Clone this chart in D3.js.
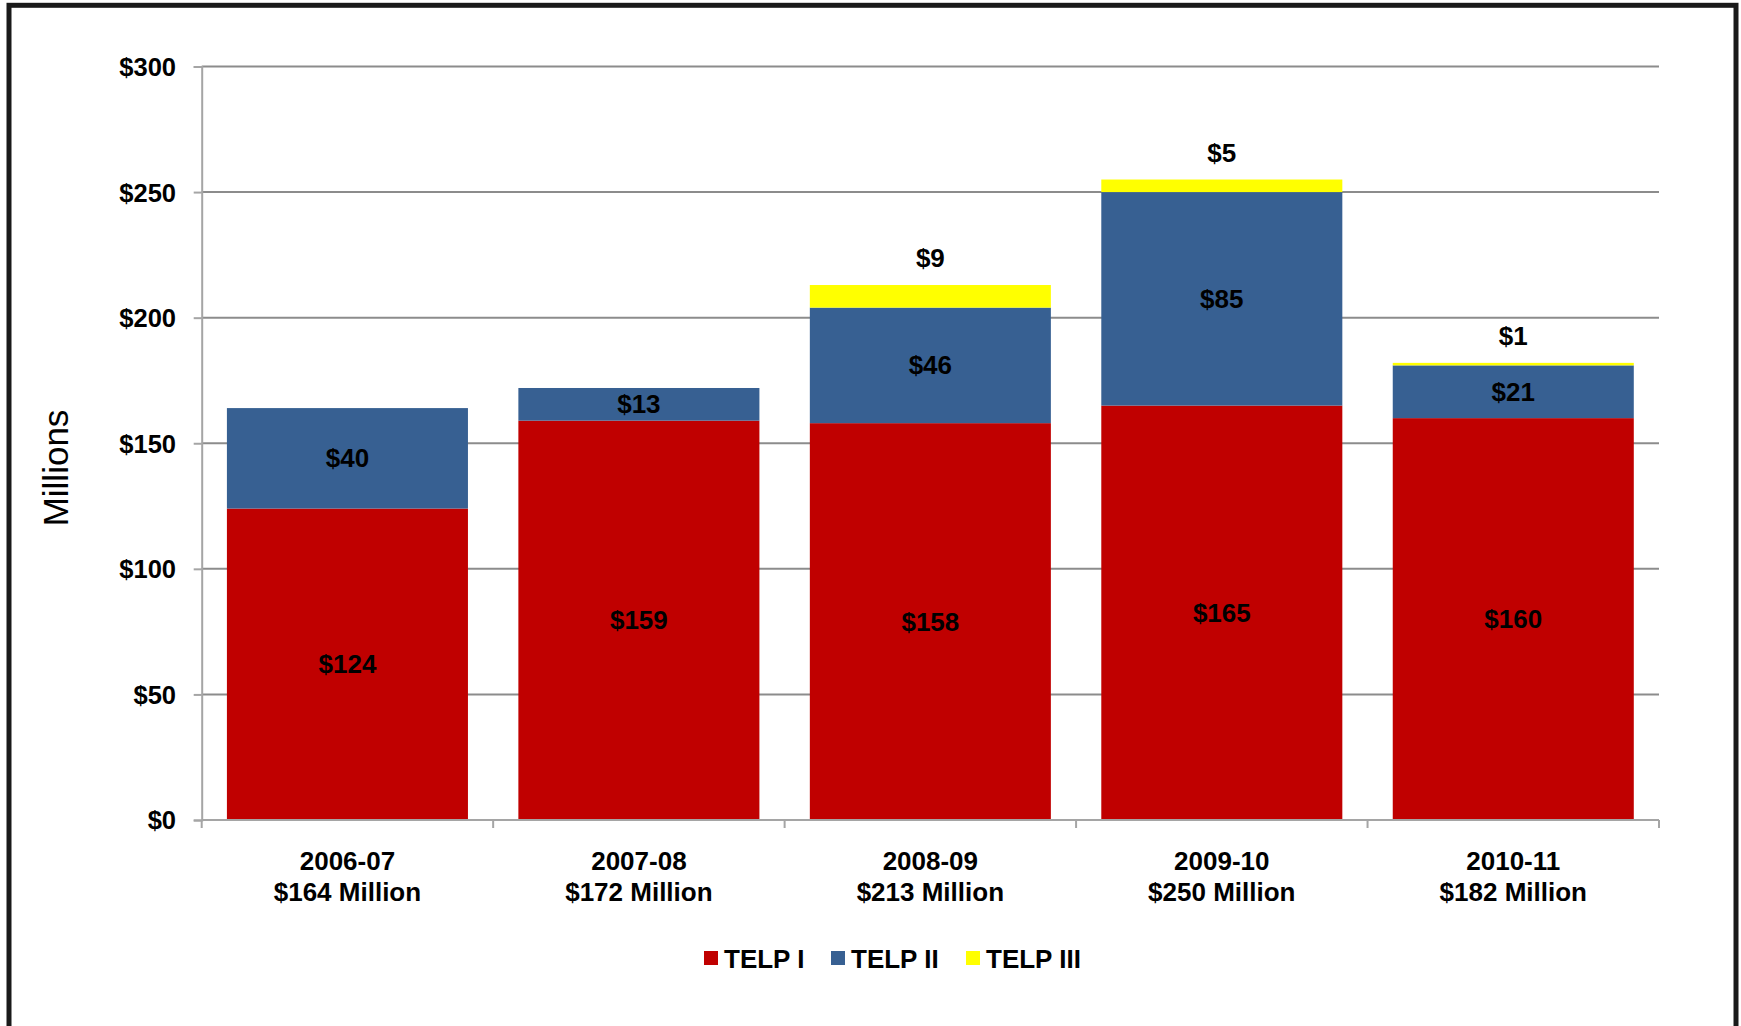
<!DOCTYPE html>
<html><head><meta charset="utf-8">
<script src="https://cdn.jsdelivr.net/npm/d3@7"></script>
<style>html,body{margin:0;padding:0;background:#fff;}svg{display:block;}</style>
</head><body>
<svg id="c" width="1741" height="1026"></svg>
<script>
const years = ["2006-07","2007-08","2008-09","2009-10","2010-11"];
const totals = ["$164 Million","$172 Million","$213 Million","$250 Million","$182 Million"];
const seriesNames = ["TELP I","TELP II","TELP III"];
const telp1 = [124,159,158,165,160];
const telp2 = [40,13,46,85,21];
const telp3 = [0,0,9,5,1];
const yTicks = [0,50,100,150,200,250,300];
const colors = ["#C00000","#376092","#FFFF00"];

(function(){
const svg = d3.select("#c");
const font = "'Liberation Sans', Arial, sans-serif";
const pLeft = 201.7, pRight = 1659, pTop = 66.5, pBottom = 820;

svg.append("rect").attr("x",9).attr("y",5.3).attr("width",1727).attr("height",1100)
  .attr("fill","none").attr("stroke","#1a1a1a").attr("stroke-width",5);

const x = d3.scaleBand().domain(years).range([pLeft,pRight]).paddingInner(0.173).paddingOuter(0.0865);
const y = d3.scaleLinear().domain([0,300]).range([pBottom,pTop]);

// gridlines
svg.append("g").selectAll("line").data(yTicks.filter(d=>d>0)).join("line")
  .attr("x1",pLeft).attr("x2",pRight).attr("y1",d=>y(d)).attr("y2",d=>y(d))
  .attr("stroke","#8c8c8c").attr("stroke-width",2);

const data = years.map((yr,i)=>({yr, TELP1:telp1[i], TELP2:telp2[i], TELP3:telp3[i]}));
const stack = d3.stack().keys(["TELP1","TELP2","TELP3"])(data);

const g = svg.append("g");
stack.forEach((s,si)=>{
  g.selectAll(null).data(s).join("rect")
    .attr("x",d=>x(d.data.yr)).attr("width",x.bandwidth())
    .attr("y",d=>y(d[1])).attr("height",d=>y(d[0])-y(d[1]))
    .attr("fill",colors[si]);
});

// axes
const yAxis = d3.axisLeft(y).tickValues(yTicks).tickSize(8).tickFormat(d=>"$"+d);
const yg = svg.append("g").attr("transform",`translate(${pLeft},0)`).call(yAxis);
yg.select(".domain").attr("stroke","#a5a5a5").attr("stroke-width",2);
yg.selectAll(".tick line").attr("stroke","#a5a5a5").attr("stroke-width",2);
yg.selectAll(".tick text").attr("x",-25.7).attr("dy","0.35em")
  .style("font-family",font).style("font-size","25.5px").style("font-weight","bold").attr("fill","#000");

const step = (pRight - pLeft) / years.length;
const xTickPos = d3.range(years.length + 1).map(i => pLeft + i*step);
const xg = svg.append("g");
xg.append("line").attr("x1",pLeft).attr("x2",pRight).attr("y1",pBottom).attr("y2",pBottom)
  .attr("stroke","#a5a5a5").attr("stroke-width",2);
xg.selectAll("line.t").data(xTickPos).join("line").attr("class","t")
  .attr("x1",d=>d).attr("x2",d=>d).attr("y1",pBottom).attr("y2",pBottom+8)
  .attr("stroke","#a5a5a5").attr("stroke-width",2);

// category labels
const cl = svg.append("g").selectAll("text").data(years).join("text")
  .attr("text-anchor","middle").attr("x",d=>x(d)+x.bandwidth()/2)
  .style("font-family",font).style("font-size","26px").style("font-weight","bold");
cl.append("tspan").attr("x",d=>x(d)+x.bandwidth()/2).attr("y",870).text(d=>d);
cl.append("tspan").attr("x",d=>x(d)+x.bandwidth()/2).attr("y",901).text((d,i)=>totals[i]);

// data labels
const lbl = svg.append("g").style("font-family",font).style("font-size","26px").style("font-weight","bold");
[0,1].forEach(si=>{
  lbl.selectAll(null).data(stack[si]).join("text")
    .attr("text-anchor","middle").attr("x",d=>x(d.data.yr)+x.bandwidth()/2)
    .attr("y",d=>y((d[0]+d[1])/2)).attr("dy","0.35em")
    .text(d=>"$"+(d[1]-d[0]));
});
lbl.selectAll(null).data(stack[2].filter(d=>d[1]-d[0]>0)).join("text")
  .attr("text-anchor","middle").attr("x",d=>x(d.data.yr)+x.bandwidth()/2)
  .attr("y",d=>y(d[1])-27).attr("dy","0.35em")
  .text(d=>"$"+(d[1]-d[0]));

// y title
svg.append("text").attr("transform","translate(68,468) rotate(-90)").attr("text-anchor","middle")
  .style("font-family",font).style("font-size","35px").text("Millions");

// legend
const legX = [704,831,966];
const lg = svg.append("g");
seriesNames.forEach((n,i)=>{
  lg.append("rect").attr("x",legX[i]).attr("y",951).attr("width",14).attr("height",14).attr("fill",colors[i]);
  lg.append("text").attr("x",legX[i]+20).attr("y",968).text(n)
    .style("font-family",font).style("font-size","26px").style("font-weight","bold");
});
})();
</script>
</body></html>
